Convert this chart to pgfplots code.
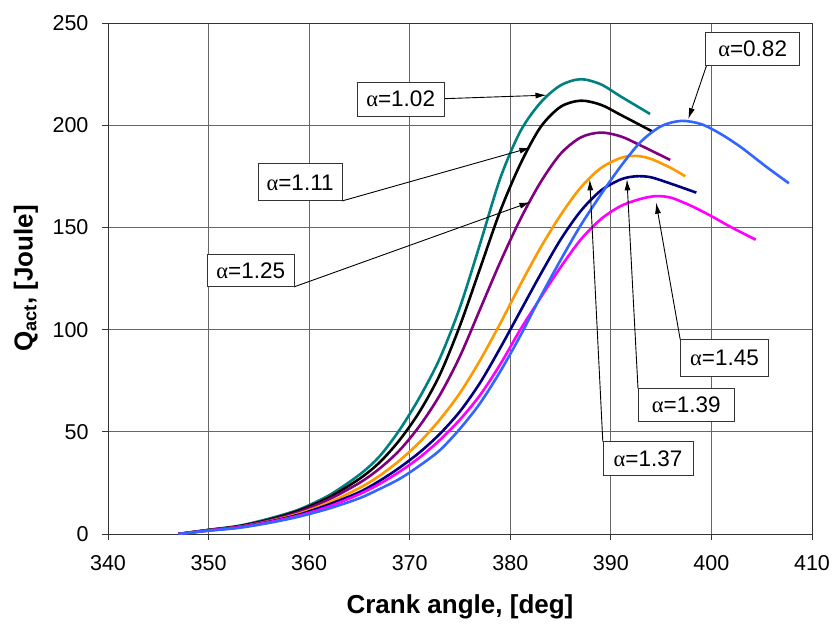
\documentclass[border=0pt]{standalone}
\usepackage{pgfplots}
\pgfplotsset{compat=1.18}
\usepackage{fontspec}
\setmainfont{Liberation Sans}
\newfontfamily\serf{Liberation Serif}
\usetikzlibrary{arrows.meta}
\definecolor{cteal}{RGB}{0,128,128}
\definecolor{cpurple}{RGB}{128,0,128}
\definecolor{corange}{RGB}{255,153,0}
\definecolor{cnavy}{RGB}{0,0,128}
\definecolor{cmag}{RGB}{255,0,255}
\definecolor{cblue}{RGB}{51,102,255}
\newcommand{\al}{{\serf α}}
\tikzset{
  lbl/.style={draw=black!80, line width=0.9pt, fill=white, font=\fontsize{22.5}{26}\selectfont, minimum height=34pt, inner sep=2pt},
  arr/.style={-{Latex[length=11pt,width=6pt]}, line width=0.9pt, black},
}
\begin{document}
\begin{tikzpicture}
\useasboundingbox (-108pt,-93pt) rectangle (725pt,534pt);
\begin{axis}[
  at={(0,0)}, anchor=south west,
  scale only axis, width=704pt, height=511pt,
  xmin=340, xmax=410, ymin=0, ymax=250,
  xtick={340,350,...,410}, ytick={0,50,...,250},
  grid=major, grid style={black!60, line width=0.8pt},
  axis line style={black!80, line width=0.9pt},
  tick pos=left, tick align=outside, major tick length=6pt,
  tick style={black!80, line width=0.9pt},
  /pgf/number format/assume math mode=true,
  /pgf/number format/1000 sep={},
  ticklabel style={font=\fontsize{21.5}{25}\selectfont},
  xticklabel style={yshift=-12pt},
  yticklabel style={xshift=-10pt},
  xlabel={\bfseries Crank angle, [deg]},
  ylabel={\bfseries Q\textsubscript{act}, [Joule]},
  xlabel style={at={(axis description cs:0.5,-0.143)}, anchor=center, font=\fontsize{26}{30}\selectfont},
  ylabel style={at={(axis description cs:-0.1165,0.5)}, anchor=center, font=\fontsize{26}{30}\selectfont},
  every axis plot/.append style={line width=2.6pt, smooth, tension=0.5},
]
% alpha = 1.02
\addplot[cteal] coordinates {(347,0) (350,2) (353,4) (356,7.5) (359,12) (362,19) (365,29) (367,38) (369,51) (371,67) (373,86) (375,111) (377,142) (379,174) (381,197) (383,211) (385,219.5) (387,222.5) (389,220) (391,214) (393.9,205.5)};
% alpha = 1.11
\addplot[black] coordinates {(347,0) (350,2) (353,3.8) (356,7) (359,11.5) (362,18) (365,27) (367,35) (369,46) (371,60) (373,78) (375,102) (377,130) (379,158) (381,181) (383,199) (385,209) (387,212) (389,210) (391,205) (394.1,197)};
% alpha = 1.25
\addplot[cpurple] coordinates {(347,0) (350,1.9) (353,3.6) (356,6.6) (359,10.8) (362,17) (365,25) (367,32) (369,41) (371,53) (373,68) (375,87) (377,110) (379,133) (381,154) (383,172) (385,186) (387,194) (389,196.4) (391,194.5) (393,190) (395.9,183)};
% alpha = 1.37
\addplot[corange] coordinates {(347,0) (350,1.8) (353,3.4) (356,6.2) (359,10) (362,15.5) (365,22.5) (367,28.5) (369,36) (371,45) (373,56) (375,69) (377,85) (379,103) (381,122) (383,140) (385,156) (387,169.5) (389,179) (391,184) (392.5,185) (394,183.5) (396,179) (397.4,175)};
% alpha = 1.39
\addplot[cnavy] coordinates {(347,0) (350,1.8) (353,3.3) (356,6) (359,9.5) (362,14.5) (365,20.5) (367,26) (369,32.5) (371,40) (373,49) (375,60) (377,74) (379,91) (381,109) (383,127) (385,144) (387,158) (389,168) (391,173.5) (392.5,175) (394,174.5) (396.2,171) (398.5,167)};
% alpha = 1.45
\addplot[cmag] coordinates {(347,0) (350,1.7) (353,3.2) (356,5.8) (359,9) (362,13.5) (365,19.5) (367,24.5) (369,30.5) (371,37.5) (373,46) (375,56) (377,68) (379,83) (381,100) (383,115.5) (385,130.5) (387,144) (389,154) (391,160.5) (393,164) (394.5,165.3) (396,164.5) (398,160.5) (400,155.5) (402,150) (404.4,144)};
% alpha = 0.82
\addplot[cblue] coordinates {(347,0) (350,1.6) (353,3) (356,5.4) (359,8.5) (362,12.5) (365,17.5) (367,22) (369,27) (371,33.5) (373,41) (375,51.5) (377,64) (379,79.5) (381,97) (383,116) (385,134) (387,151) (389,166) (391,180) (393,192) (395,199.5) (397,202.1) (399,200.5) (401,195.5) (403,189) (405.5,179.5) (407.7,171.6)};
% annotations
\draw[arr] (axis cs:369.45,212.3) -- (axis cs:383.6,214.7);
\draw[arr] (axis cs:363.25,162.9) -- (axis cs:382,189);
\draw[arr] (axis cs:358.5,120.9) -- (axis cs:382,162.4);
\draw[arr] (axis cs:399.5,229) -- (axis cs:397.7,203);
\draw[arr] (axis cs:396.9,95.1) -- (axis cs:394.5,162.1);
\draw[arr] (axis cs:392.7,71.1) -- (axis cs:391.6,173.5);
\draw[arr] (axis cs:389.2,45.2) -- (axis cs:387.9,173.5);
\node[lbl, minimum width=87pt] at (axis cs:369.1,212.7) {\al=1.02};
\node[lbl, minimum width=84pt, minimum height=37pt] at (axis cs:359.1,172) {\al=1.11};
\node[lbl, minimum width=87pt, minimum height=32pt] at (axis cs:354.2,128.8) {\al=1.25};
\node[lbl, minimum width=94pt, minimum height=33pt] at (axis cs:404.1,237.3) {\al=0.82};
\node[lbl, minimum width=88pt, minimum height=37pt] at (axis cs:401.3,86.1) {\al=1.45};
\node[lbl, minimum width=96pt, minimum height=33pt] at (axis cs:397.5,63.1) {\al=1.39};
\node[lbl, minimum width=90pt] at (axis cs:393.7,36.9) {\al=1.37};
\end{axis}
\end{tikzpicture}
\end{document}
